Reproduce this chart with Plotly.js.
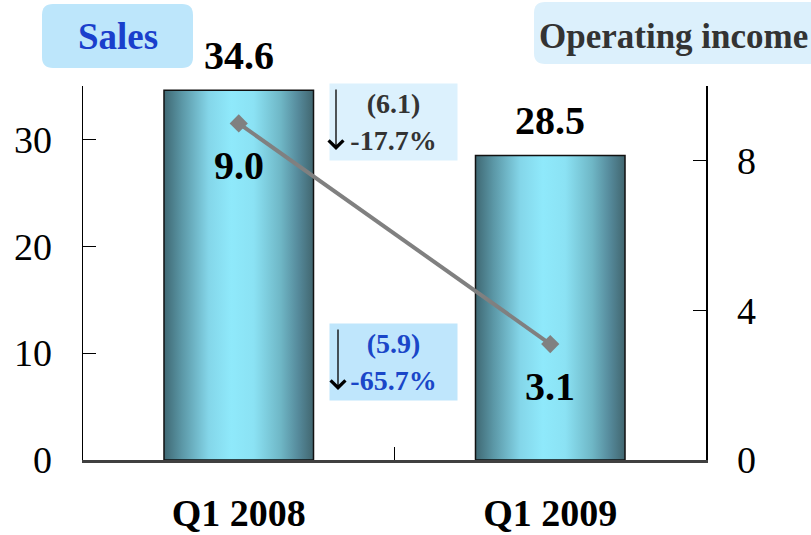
<!DOCTYPE html>
<html>
<head>
<meta charset="utf-8">
<script src="https://cdn.plot.ly/plotly-3.0.1.min.js"></script>
<style>html,body{margin:0;padding:0;background:#fff;}#chart{width:811px;height:535px;}</style>
</head>
<body>
<div id="chart"></div>
<script>
// ---- data ----
const categories = ["Q1 2008", "Q1 2009"];
const salesValues = [34.6, 28.5];
const incomeValues = [9.0, 3.1];
const salesLabels = ["34.6", "28.5"];
const incomeLabels = ["9.0", "3.1"];
const salesChange = ["(6.1)", "-17.7%"];
const incomeChange = ["(5.9)", "-65.7%"];
const leftTicks = [0, 10, 20, 30];
const rightTicks = [0, 4, 8];

// ---- layout helpers (pixel -> paper) ----
const M = {l: 83, r: 105, t: 86, b: 75};
const W = 811, H = 535;
const PW = W - M.l - M.r, PH = H - M.t - M.b;
const X = v => (v - M.l) / PW;
const Y = v => (H - M.b - v) / PH;
function rr(x0, y0, x1, y1, r) {
  return `M${X(x0 + r)},${Y(y0)} L${X(x1 - r)},${Y(y0)} Q${X(x1)},${Y(y0)} ${X(x1)},${Y(y0 + r)} ` +
         `L${X(x1)},${Y(y1 - r)} Q${X(x1)},${Y(y1)} ${X(x1 - r)},${Y(y1)} L${X(x0 + r)},${Y(y1)} ` +
         `Q${X(x0)},${Y(y1)} ${X(x0)},${Y(y1 - r)} L${X(x0)},${Y(y0 + r)} Q${X(x0)},${Y(y0)} ${X(x0 + r)},${Y(y0)} Z`;
}
const FONT = '"Liberation Serif", "Times New Roman", serif';

const traces = [
  {
    type: 'bar', x: categories, y: salesValues, width: 0.48,
    marker: {color: '#7fd3e4', line: {color: '#111', width: 1.5}},
    hoverinfo: 'none', yaxis: 'y'
  },
  {
    type: 'scatter', mode: 'lines+markers', x: categories, y: incomeValues,
    yaxis: 'y2', line: {color: '#808080', width: 4},
    marker: {symbol: 'diamond', size: 14, color: '#808080'},
    hoverinfo: 'none', cliponaxis: false
  }
];

const annotations = [];
categories.forEach((c, i) => {
  annotations.push({x: c, y: salesValues[i], xref: 'x', yref: 'y', text: '<b>' + salesLabels[i] + '</b>',
    showarrow: false, xanchor: 'center', yanchor: 'middle', yshift: 35, font: {family: FONT, size: 40, color: '#000'}});
  annotations.push({x: c, y: incomeValues[i], xref: 'x', yref: 'y2', text: '<b>' + incomeLabels[i] + '</b>',
    showarrow: false, xanchor: 'center', yanchor: 'middle', yshift: -42, font: {family: FONT, size: 40, color: '#000'}});
});
// titles in boxes
annotations.push({xref: 'paper', yref: 'paper', x: X(117.5), y: Y(37), xanchor: 'center', yanchor: 'middle',
  text: '<b>Sales</b>', showarrow: false, font: {family: FONT, size: 37, color: '#1a3fcc'}});
annotations.push({xref: 'paper', yref: 'paper', x: X(673), y: Y(37), xanchor: 'center', yanchor: 'middle',
  text: '<b>Operating income</b>', showarrow: false, font: {family: FONT, size: 35, color: '#333333'}});
// change boxes
annotations.push({xref: 'paper', yref: 'paper', x: X(393.5), y: Y(122), width: 127, height: 76,
  bgcolor: '#dcf1fd', text: '<b>' + salesChange.join('<br>') + '</b>', showarrow: false, align: 'center',
  xanchor: 'center', yanchor: 'middle', borderpad: 0, font: {family: FONT, size: 28, color: '#333333'}});
annotations.push({xref: 'paper', yref: 'paper', x: X(393.5), y: Y(362), width: 127, height: 76,
  bgcolor: '#bfe6fc', text: '<b>' + incomeChange.join('<br>') + '</b>', showarrow: false, align: 'center',
  xanchor: 'center', yanchor: 'middle', borderpad: 0, font: {family: FONT, size: 28, color: '#1a46c8'}});
// arrows
[[336, 150], [338, 390]].forEach(p => {
  annotations.push({xref: 'paper', yref: 'paper', x: X(p[0]), y: Y(p[1]), ax: 0, ay: -62, text: '',
    showarrow: true, arrowhead: 4, arrowsize: 2.2, arrowwidth: 1.3, arrowcolor: '#000', standoff: 0});
});

const layout = {
  width: W, height: H, margin: M, showlegend: false,
  paper_bgcolor: '#fff', plot_bgcolor: '#fff',
  font: {family: FONT, color: '#000'},
  xaxis: {
    type: 'category', range: [-0.5, 1.5], tickson: 'boundaries', ticks: 'inside', ticklen: 13,
    tickwidth: 1.2, tickcolor: '#000', showline: true, linecolor: '#404040', linewidth: 2.5,
    showgrid: false, zeroline: false, ticklabelstandoff: 18,
    tickfont: {family: FONT, size: 38, color: '#000', weight: 'bold'}
  },
  yaxis: {
    range: [0, 35], tickvals: leftTicks, ticks: 'inside', ticklen: 13, tickwidth: 1.2, tickcolor: '#000',
    showline: true, linecolor: '#000', linewidth: 1.5, showgrid: false, zeroline: false,
    ticklabelstandoff: 22, tickfont: {family: FONT, size: 38, color: '#000'}
  },
  yaxis2: {
    overlaying: 'y', side: 'right', range: [0, 10], tickvals: rightTicks, ticks: 'inside', ticklen: 13,
    tickwidth: 1.2, tickcolor: '#000', showline: true, linecolor: '#000', linewidth: 1.5,
    showgrid: false, zeroline: false, ticklabelstandoff: 22, tickfont: {family: FONT, size: 38, color: '#000'}
  },
  shapes: [
    {type: 'path', xref: 'paper', yref: 'paper', path: rr(42, 4, 193, 68, 11), fillcolor: '#bde6fb', line: {width: 0}, layer: 'below'},
    {type: 'path', xref: 'paper', yref: 'paper', path: rr(534, 2, 822, 64, 11), fillcolor: '#dcf0fc', line: {width: 0}, layer: 'below'}
  ],
  annotations: annotations
};

Plotly.newPlot('chart', traces, layout, {staticPlot: true, responsive: false}).then(gd => {
  const svg = gd.querySelector('svg.main-svg');
  const NS = 'http://www.w3.org/2000/svg';
  let defs = svg.querySelector('defs');
  if (!defs) { defs = document.createElementNS(NS, 'defs'); svg.insertBefore(defs, svg.firstChild); }
  const g = document.createElementNS(NS, 'linearGradient');
  g.setAttribute('id', 'barGrad');
  g.setAttribute('x1', '0'); g.setAttribute('x2', '1'); g.setAttribute('y1', '0'); g.setAttribute('y2', '0');
  [[0, '#3f6873'], [0.12, '#5b97a6'], [0.3, '#84d6e9'], [0.45, '#8fe9fb'], [0.6, '#8be2f4'],
   [0.78, '#6fb7c6'], [0.9, '#55899a'], [1, '#41666f']].forEach(s => {
    const st = document.createElementNS(NS, 'stop');
    st.setAttribute('offset', s[0]); st.setAttribute('stop-color', s[1]);
    g.appendChild(st);
  });
  defs.appendChild(g);
  gd.querySelectorAll('.barlayer .point path').forEach(p => { p.style.fill = 'url(#barGrad)'; });
});
</script>
</body>
</html>
